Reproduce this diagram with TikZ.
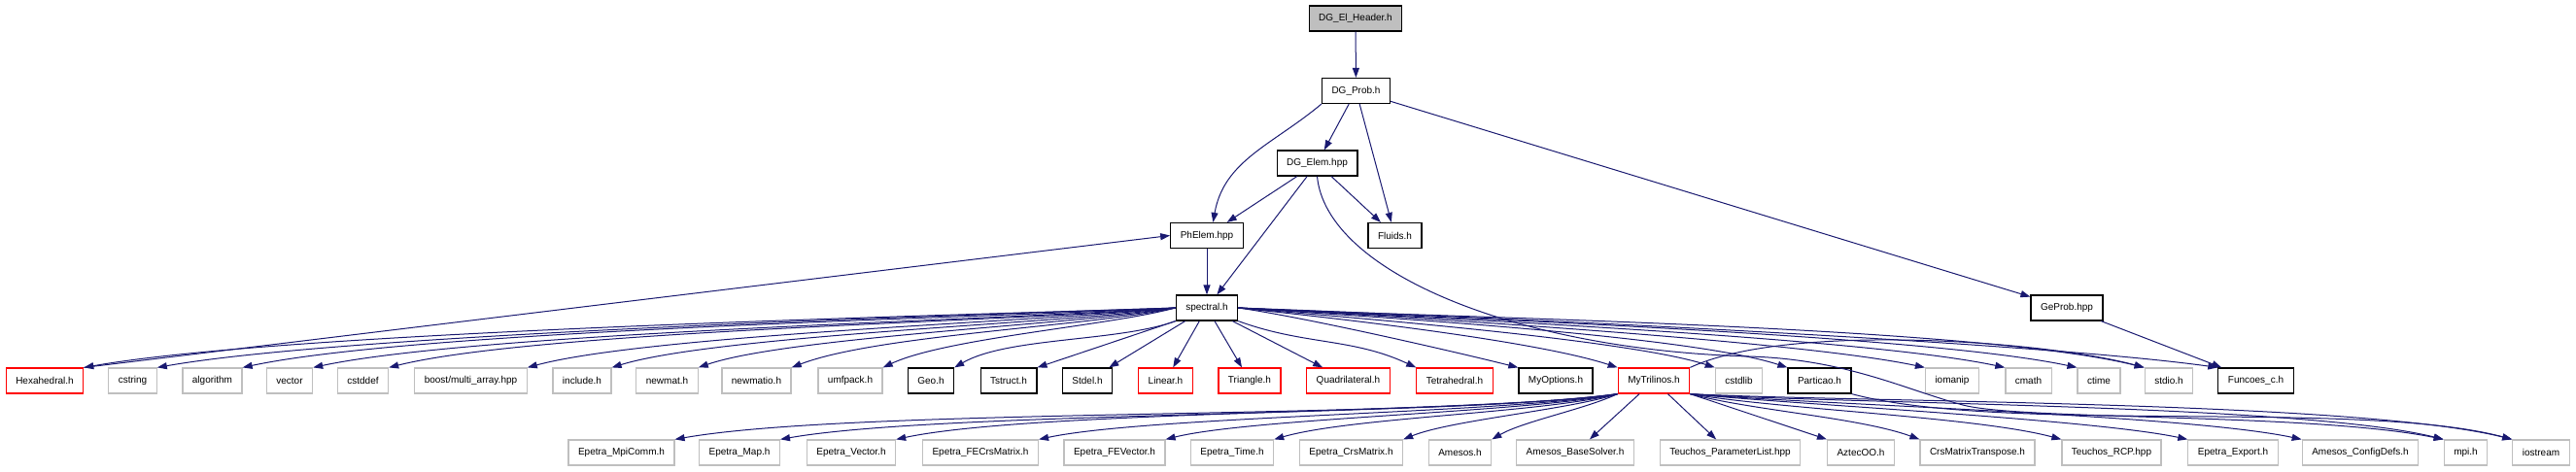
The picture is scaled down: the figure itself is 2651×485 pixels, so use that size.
\documentclass[tikz,border=0pt]{standalone}
\definecolor{EdgeBlue}{RGB}{25, 25, 112}
\definecolor{ExtGray}{RGB}{191, 191, 191}
\definecolor{NoDocRed}{RGB}{255, 0, 0}
\usepackage{fontspec}
\setmainfont{Liberation Sans}
\usetikzlibrary{arrows.meta}

\begin{document}
\begin{tikzpicture}[
    x=1pt, y=1pt,
    every node/.style={font=\fontsize{10}{12}\selectfont, inner xsep=10pt, inner ysep=0pt,
                minimum height=26pt},
    docfile/.style={draw=black, fill=white, line width=1.2pt},
    extfile/.style={draw=ExtGray, fill=white, line width=1.2pt},
    nodocfile/.style={draw=NoDocRed, fill=white, line width=1.2pt},
    rootfile/.style={draw=black, fill=ExtGray, line width=1.2pt},
    dep/.style={-{Triangle[length=10pt, width=7pt]}, EdgeBlue, line width=1pt}
]
\useasboundingbox (0,0) rectangle (2651,-485);

% top chain
\node[rootfile] (hdr) at (1395,-19) {DG\_El\_Header.h};
\node[docfile] (prob) at (1395.5,-93.5) {DG\_Prob.h};
\node[docfile] (elem) at (1355.5,-168) {DG\_Elem.hpp};
\node[docfile] (phelem) at (1242,-242.5) {PhElem.hpp};
\node[docfile] (fluids) at (1435.5,-242.5) {Fluids.h};
\node[docfile] (spectral) at (1242,-317) {spectral.h};
\node[docfile] (geprob) at (2127,-317) {GeProb.hpp};

% headers of spectral.h
\node[nodocfile] (hexa) at (46,-392) {Hexahedral.h};
\node[extfile] (cstring) at (136.5,-392) {cstring};
\node[extfile] (algorithm) at (218.5,-392) {algorithm};
\node[extfile] (vector) at (298,-392) {vector};
\node[extfile] (cstddef) at (373.5,-392) {cstddef};
\node[extfile] (boost) at (484.5,-392) {boost/multi\_array.hpp};
\node[extfile] (include) at (599,-392) {include.h};
\node[extfile] (newmat) at (686.5,-392) {newmat.h};
\node[extfile] (newmatio) at (778.5,-392) {newmatio.h};
\node[extfile] (umfpack) at (875,-392) {umfpack.h};
\node[docfile] (geo) at (958,-392) {Geo.h};
\node[docfile] (tstruct) at (1038,-392) {Tstruct.h};
\node[docfile] (stdel) at (1119,-392) {Stdel.h};
\node[nodocfile] (linear) at (1199.5,-392) {Linear.h};
\node[nodocfile] (triangle) at (1286,-392) {Triangle.h};
\node[nodocfile] (quad) at (1387.5,-392) {Quadrilateral.h};
\node[nodocfile] (tetra) at (1497,-392) {Tetrahedral.h};
\node[docfile] (myopt) at (1601,-392) {MyOptions.h};
\node[nodocfile] (mytri) at (1702,-392) {MyTrilinos.h};
\node[extfile] (cstdlib) at (1789.5,-392) {cstdlib};
\node[docfile] (particao) at (1872.5,-392) {Particao.h};
\node[extfile] (iomanip) at (2009,-392) {iomanip};
\node[extfile] (cmath) at (2087.5,-392) {cmath};
\node[extfile] (ctime) at (2160,-392) {ctime};
\node[extfile] (stdio) at (2232,-392) {stdio.h};
\node[docfile] (funcoes) at (2321.5,-392) {Funcoes\_c.h};

% headers of MyTrilinos.h
\node[extfile] (mpicomm) at (639.5,-466) {Epetra\_MpiComm.h};
\node[extfile] (emap) at (761,-466) {Epetra\_Map.h};
\node[extfile] (evec) at (876,-466) {Epetra\_Vector.h};
\node[extfile] (fecrs) at (1009,-466) {Epetra\_FECrsMatrix.h};
\node[extfile] (fevec) at (1147,-466) {Epetra\_FEVector.h};
\node[extfile] (etime) at (1268,-466) {Epetra\_Time.h};
\node[extfile] (crs) at (1390.5,-466) {Epetra\_CrsMatrix.h};
\node[extfile] (amesos) at (1502.5,-466) {Amesos.h};
\node[extfile] (bsolver) at (1621,-466) {Amesos\_BaseSolver.h};
\node[extfile] (plist) at (1780.5,-466) {Teuchos\_ParameterList.hpp};
\node[extfile] (aztec) at (1915,-466) {AztecOO.h};
\node[extfile] (crst) at (2035,-466) {CrsMatrixTranspose.h};
\node[extfile] (rcp) at (2173,-466) {Teuchos\_RCP.hpp};
\node[extfile] (export) at (2298,-466) {Epetra\_Export.h};
\node[extfile] (config) at (2429,-466) {Amesos\_ConfigDefs.h};
\node[extfile] (mpi) at (2537.5,-466) {mpi.h};
\node[extfile] (iostream) at (2615,-466) {iostream};

% upper edges
\draw[dep] (hdr) -- (prob);
\draw[dep] (prob.south west) .. controls +(220:65) and +(80:65) .. (phelem.65);
\draw[dep] (prob) -- (elem);
\draw[dep] (prob) -- (fluids);
\draw[dep] (prob) -- (geprob);
\draw[dep] (elem) -- (phelem);
\draw[dep] (elem) -- (spectral);
\draw[dep] (elem) -- (fluids);
\draw[dep] (elem.south) .. controls (1365,-280) and (1560,-360) .. (1800,-367)
    .. controls (1900,-370) and (1960,-401) .. (2020,-417)
    .. controls (2080,-433) and (2380,-425) .. (mpi.north west);
\draw[dep] (phelem) -- (spectral);
\draw[dep] (hexa.north east) -- (phelem.west);
\draw[dep] (geprob) -- (funcoes);

% spectral.h fan
\draw[dep] (spectral.west) .. controls +(182:220) and +(10:220) .. (hexa.north east);
\draw[dep] (spectral.west) .. controls +(182:205) and +(10:205) .. (cstring.north east);
\draw[dep] (spectral.west) .. controls +(183:188) and +(12:188) .. (algorithm.north east);
\draw[dep] (spectral.west) .. controls +(184:174) and +(12:174) .. (vector.north east);
\draw[dep] (spectral.west) .. controls +(185:158) and +(14:158) .. (cstddef.north east);
\draw[dep] (spectral.west) .. controls +(186:131) and +(15:131) .. (boost.north east);
\draw[dep] (spectral.west) .. controls +(188:114) and +(17:114) .. (include.north east);
\draw[dep] (spectral.west) .. controls +(190:97) and +(19:97) .. (newmat.north east);
\draw[dep] (spectral.west) .. controls +(192:94) and +(21:94) .. (newmatio.north east);
\draw[dep] (spectral.west) .. controls +(195:72) and +(25:72) .. (umfpack.north east);
\draw[dep] (spectral.south west) .. controls +(200:63) and +(30:63) .. (geo.north east);
\draw[dep] (spectral.south west) -- (tstruct.north east);
\draw[dep] (spectral) -- (stdel);
\draw[dep] (spectral) -- (linear);
\draw[dep] (spectral) -- (triangle);
\draw[dep] (spectral) -- (quad);
\draw[dep] (spectral.south east) .. controls +(-20:73) and +(155:73) .. (tetra.north west);
\draw[dep] (spectral.east) .. controls +(-8:69) and +(166:69) .. (myopt.north west);
\draw[dep] (spectral.east) .. controls +(-6:92) and +(162:92) .. (mytri.north west);
\draw[dep] (spectral.east) .. controls +(-5:96) and +(162:96) .. (cstdlib.north west);
\draw[dep] (spectral.east) .. controls +(-4:111) and +(162:111) .. (particao.north west);
\draw[dep] (spectral.east) .. controls +(-3:138) and +(168:138) .. (iomanip.north west);
\draw[dep] (spectral.east) .. controls +(-3:154) and +(168:154) .. (cmath.north west);
\draw[dep] (spectral.east) .. controls +(-3:169) and +(168:169) .. (ctime.north west);
\draw[dep] (spectral.east) .. controls +(-3:182) and +(166:182) .. (stdio.north west);
\draw[dep] (spectral.east) .. controls +(-2:197) and +(172:197) .. (funcoes.north west);

% MyTrilinos.h fan
\draw[dep] (mytri.south west) .. controls +(188:190) and +(10:190) .. (mpicomm.north east);
\draw[dep] (mytri.south west) .. controls +(188:168) and +(10:168) .. (emap.north east);
\draw[dep] (mytri.south west) .. controls +(188:145) and +(12:145) .. (evec.north east);
\draw[dep] (mytri.south west) .. controls +(190:116) and +(12:116) .. (fecrs.north east);
\draw[dep] (mytri.south west) .. controls +(192:91) and +(14:91) .. (fevec.north east);
\draw[dep] (mytri.south west) .. controls +(194:83) and +(16:83) .. (etime.north east);
\draw[dep] (mytri.south west) .. controls +(198:53) and +(22:53) .. (crs.north east);
\draw[dep] (mytri.south west) .. controls +(205:37) and +(30:37) .. (amesos.north east);
\draw[dep] (mytri) -- (bsolver);
\draw[dep] (mytri) -- (plist);
\draw[dep] (mytri.south east) -- (aztec.north west);
\draw[dep] (mytri.south east) .. controls +(-15:66) and +(160:66) .. (crst.north west);
\draw[dep] (mytri.south east) .. controls +(-10:90) and +(165:90) .. (rcp.north west);
\draw[dep] (mytri.south east) .. controls +(-6:100) and +(168:100) .. (export.north west);
\draw[dep] (mytri.south east) .. controls +(-5:123) and +(168:123) .. (config.north west);
\draw[dep] (mytri.south east) .. controls +(-4:151) and +(166:151) .. (mpi.north west);
\draw[dep] (mytri.south east) .. controls +(-3:165) and +(166:165) .. (iostream.north west);
\draw[dep] (mytri.north east) .. controls +(25:109) and +(165:109) .. (stdio.north west);
\draw[dep] (particao.south east) .. controls +(-15:160) and +(165:160) .. (iostream.north west);
\end{tikzpicture}
\end{document}
